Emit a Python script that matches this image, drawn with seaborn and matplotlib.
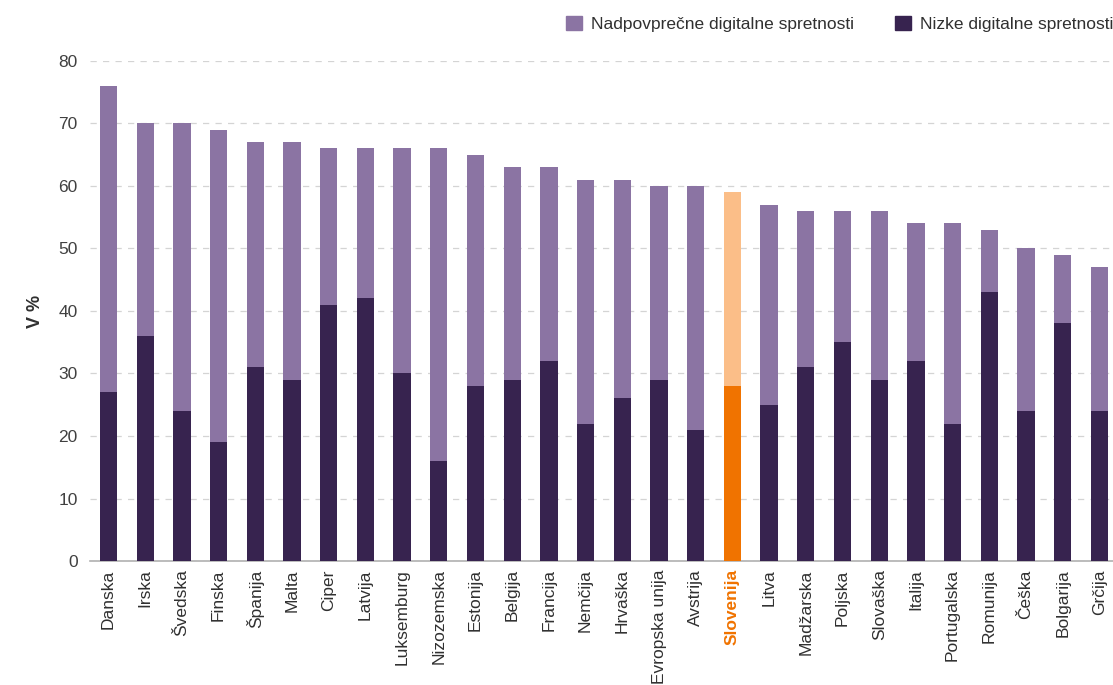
import matplotlib
matplotlib.use('Agg')
import matplotlib.pyplot as plt
import seaborn as sns
from matplotlib.patches import Patch

countries = ['Danska', 'Irska', 'Švedska', 'Finska', 'Španija', 'Malta', 'Ciper', 'Latvija',
             'Luksemburg', 'Nizozemska', 'Estonija', 'Belgija', 'Francija', 'Nemčija', 'Hrvaška',
             'Evropska unija', 'Avstrija', 'Slovenija', 'Litva', 'Madžarska', 'Poljska', 'Slovaška',
             'Italija', 'Portugalska', 'Romunija', 'Češka', 'Bolgarija', 'Grčija']
total = [76, 70, 70, 69, 67, 67, 66, 66, 66, 66, 65, 63, 63, 61, 61, 60, 60, 59, 57, 56, 56, 56,
         54, 54, 53, 50, 49, 47]
low = [27, 36, 24, 19, 31, 29, 41, 42, 30, 16, 28, 29, 32, 22, 26, 29, 21, 28, 25, 31, 35, 29,
       32, 22, 43, 24, 38, 24]

highlight = 'Slovenija'
light_purple = '#8b74a3'
dark_purple = '#37234f'
light_orange = '#fbbe88'
orange = '#f07300'

sns.set_theme(style='white')
plt.rcParams['font.family'] = ['Liberation Sans', 'DejaVu Sans']

light_cols = [light_orange if c == highlight else light_purple for c in countries]
dark_cols = [orange if c == highlight else dark_purple for c in countries]

fig = plt.figure(figsize=(11.13, 6.85), dpi=100)
ax = fig.add_axes([0.081, 0.181, 0.919, 0.730])

sns.barplot(x=countries, y=total, hue=countries, palette=light_cols, legend=False,
            width=0.47, saturation=1, linewidth=0, ax=ax, zorder=2)
sns.barplot(x=countries, y=low, hue=countries, palette=dark_cols, legend=False,
            width=0.47, saturation=1, linewidth=0, ax=ax, zorder=3)

ax.set_ylim(0, 80)
ax.set_xlim(-0.5, 27.37)
ax.set_yticks(range(0, 81, 10))
ax.yaxis.grid(True, linestyle=(0, (5, 5)), color='#d4d4d4', linewidth=0.9, zorder=0)
for s in ['top', 'right', 'left']:
    ax.spines[s].set_visible(False)
ax.spines['bottom'].set_color('#b0b0b0')
ax.spines['bottom'].set_linewidth(1.2)

ax.tick_params(axis='y', labelsize=12.5, colors='#404040', length=0, pad=9)
ax.tick_params(axis='x', labelsize=12.5, colors='#303030', length=0, pad=6)
ax.set_xticks(range(len(countries)))
ax.set_xticklabels(countries, rotation=90)
for lab in ax.get_xticklabels():
    if lab.get_text() == highlight:
        lab.set_color(orange)
        lab.set_fontweight('bold')

ax.set_ylabel('V %', fontsize=13, fontweight='bold', color='#303030', labelpad=10)

handles = [Patch(color=light_purple, label='Nadpovprečne digitalne spretnosti'),
           Patch(color=dark_purple, label='Nizke digitalne spretnosti')]
fig.legend(handles=handles, loc='upper right', bbox_to_anchor=(1.014, 1.0), ncol=2,
           frameon=False, fontsize=12.5, handlelength=0.9, handleheight=0.9,
           handletextpad=0.5, columnspacing=2.4, labelcolor='#303030')

fig.savefig('out.png', dpi=100)
